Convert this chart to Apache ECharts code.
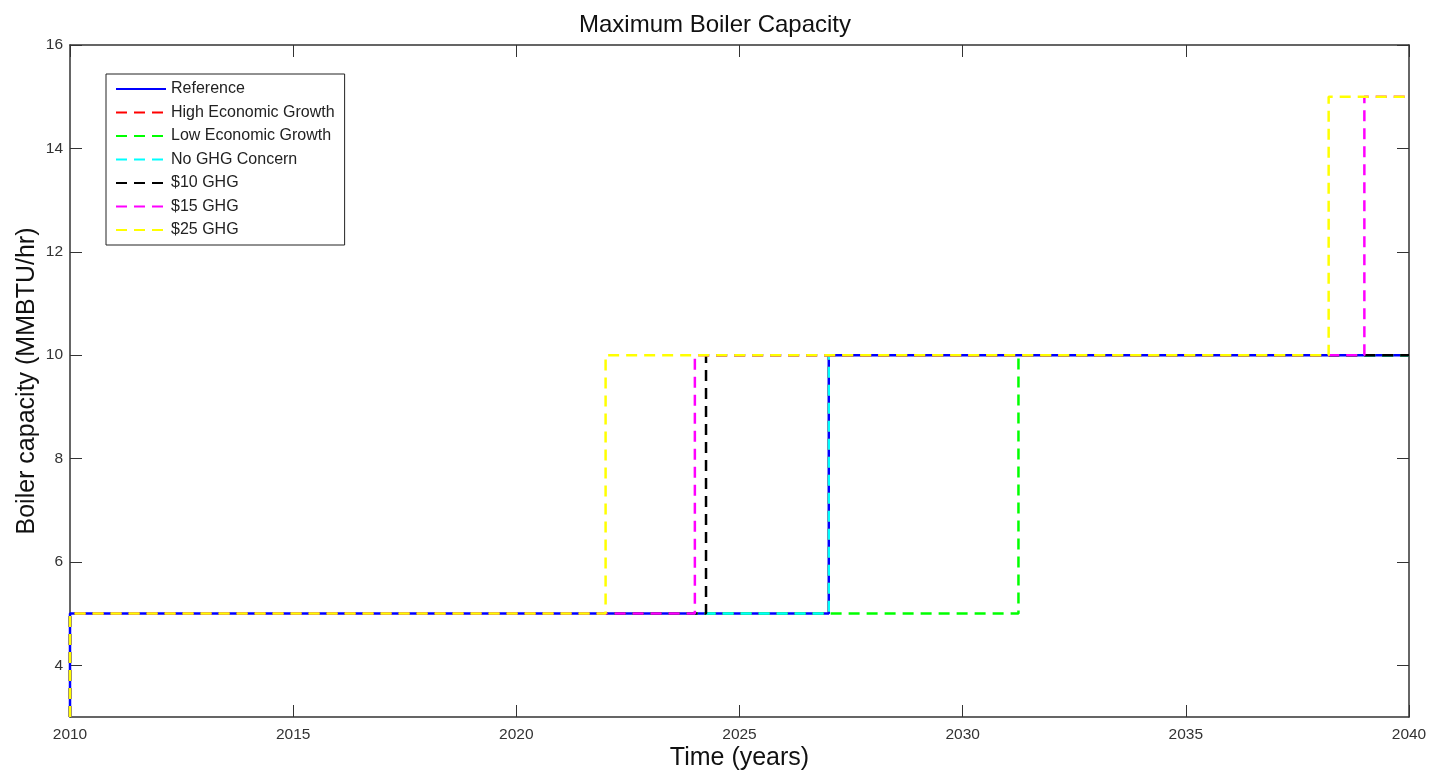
<!DOCTYPE html>
<html>
<head>
<meta charset="utf-8">
<script src="https://cdn.jsdelivr.net/npm/echarts@6/dist/echarts.min.js"></script>
<style>
html,body{margin:0;padding:0;background:#fff;}
#chart{width:1430px;height:775px;}
</style>
</head>
<body>
<div id="chart"></div>
<script>
// scenario names (legend order)
var names = ['Reference','High Economic Growth','Low Economic Growth','No GHG Concern','$10 GHG','$15 GHG','$25 GHG'];
var colors = ['#0000ff','#ff0000','#00ff00','#00ffff','#000000','#ff00ff','#ffff00'];

// [year, capacity] step points per scenario
var reference = [[2010,3],[2010,5],[2027,5],[2027,10],[2040,10]];
var highGrowth = [[2010,3],[2010,5],[2027,5],[2027,10],[2040,10]];
var lowGrowth = [[2010,3],[2010,5],[2031.25,5],[2031.25,10],[2040,10]];
var noGhg = [[2010,3],[2010,5],[2027,5],[2027,10],[2040,10]];
var ghg10 = [[2010,3],[2010,5],[2024.25,5],[2024.25,10],[2040,10]];
var ghg15 = [[2010,3],[2010,5],[2024,5],[2024,10],[2039,10],[2039,15],[2040,15]];
var ghg25 = [[2010,3],[2010,5],[2022,5],[2022,10],[2038.2,10],[2038.2,15],[2040,15]];

var yTicks = [4,6,8,10,12,14,16];

var allData = [reference,highGrowth,lowGrowth,noGhg,ghg10,ghg15,ghg25];

var series = [];
for(var i=0;i<names.length;i++){
	series.push({
		name: names[i],
		type: 'line',
		data: allData[i],
		symbol: 'none',
		animation: false,
		lineStyle: {
			color: colors[i],
			width: 2.5,
			type: i==0 ? 'solid' : [11,7]
		},
		itemStyle: {color: colors[i]}
	});
}

var myChart = echarts.init(document.getElementById('chart'));
var font = 'Arial, Liberation Sans';
var option = {
	backgroundColor: '#fff',
	title: {
		text: 'Maximum Boiler Capacity',
		left: 'center',
		top: 8,
		textStyle: {fontFamily:font, fontSize:24, fontWeight:'normal', color:'#111'}
	},
	legend: {
		orient: 'vertical',
		left: 106,
		top: 74,
		data: names,
		itemWidth: 50,
		itemHeight: 16,
		itemGap: 7.5,
		padding: [7,10,7,9],
		borderColor: '#222',
		borderWidth: 1,
		backgroundColor: '#fff',
		itemStyle: {opacity: 0},
		textStyle: {fontFamily:font, fontSize:16, color:'#222', padding:[0,0,0,0]}
	},
	grid: {left:70, right:21, top:45, bottom:58, outerBoundsMode:'none'},
	xAxis: [{
		type: 'value',
		min: 2010,
		max: 2040,
		interval: 5,
		name: 'Time (years)',
		nameLocation: 'middle',
		nameGap: 29,
		nameMoveOverlap: false,
		nameTextStyle: {fontFamily:font, fontSize:25, color:'#111'},
		axisLine: {lineStyle:{color:'#333', width:1.5}},
		axisTick: {inside:true, length:12, lineStyle:{color:'#333'}},
		axisLabel: {fontFamily:font, fontSize:15.5, color:'#333', margin:10, formatter:function(v){return String(v);}},
		splitLine: {show:false}
	},{
		type: 'value',
		position: 'top',
		min: 2010,
		max: 2040,
		interval: 5,
		axisLine: {lineStyle:{color:'#333', width:1.5}},
		axisTick: {inside:true, length:12, lineStyle:{color:'#333'}},
		axisLabel: {show:false},
		splitLine: {show:false}
	}],
	yAxis: [{
		type: 'value',
		min: 3,
		max: 16,
		name: 'Boiler capacity (MMBTU/hr)',
		nameLocation: 'middle',
		nameGap: 30.5,
		nameMoveOverlap: false,
		nameTextStyle: {fontFamily:font, fontSize:25, color:'#111'},
		axisLine: {show:true, lineStyle:{color:'#333', width:1.5}},
		axisTick: {inside:true, length:12, customValues:yTicks, lineStyle:{color:'#333'}},
		axisLabel: {fontFamily:font, fontSize:15.5, color:'#333', customValues:yTicks, margin:7},
		splitLine: {show:false}
	},{
		type: 'value',
		position: 'right',
		min: 3,
		max: 16,
		axisLine: {show:true, lineStyle:{color:'#333', width:1.5}},
		axisTick: {inside:true, length:12, customValues:yTicks, lineStyle:{color:'#333'}},
		axisLabel: {show:false, customValues:yTicks},
		splitLine: {show:false}
	}],
	series: series
};
myChart.setOption(option);
</script>
</body>
</html>
